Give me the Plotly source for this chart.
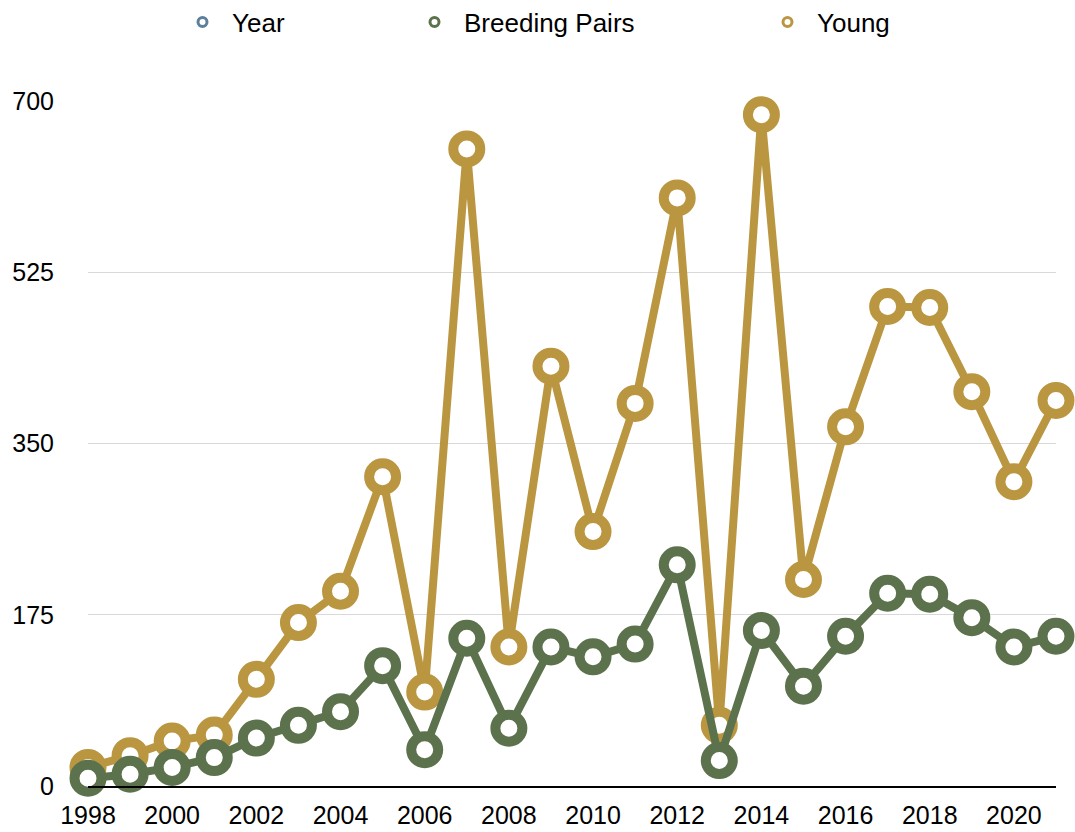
import plotly.graph_objects as go

years = list(range(1998, 2022))
breeding_pairs = [8, 12, 19, 29, 49, 62, 76, 123, 37, 151, 59, 142, 132, 145, 226, 26,
                  159, 102, 153, 197, 196, 172, 142, 153]
young = [19, 31, 46, 52, 109, 167, 199, 316, 96, 651, 142, 429, 260, 391, 601, 62,
         686, 211, 367, 490, 489, 403, 311, 394]

series_names = ["Year", "Breeding Pairs", "Young"]
colors = {"Year": "#5E7F9B", "Breeding Pairs": "#5C724C", "Young": "#BA9641"}
legend_x_px = {"Year": 173, "Breeding Pairs": 405, "Young": 758}
y_ticks = [0, 175, 350, 525, 700]
x_ticks = list(range(1998, 2022, 2))

font_family = "Liberation Sans, Arial, Helvetica, sans-serif"
W, H = 1075, 832

fig = go.Figure()

for name, vals in [("Young", young), ("Breeding Pairs", breeding_pairs)]:
    fig.add_trace(go.Scatter(
        x=years, y=vals, mode="lines+markers", name=name, showlegend=False,
        line=dict(color=colors[name], width=8),
        marker=dict(symbol="circle", size=27, color="white",
                    line=dict(color=colors[name], width=10)),
        cliponaxis=False,
    ))

legend_ids = ["legend", "legend2", "legend3"]
legend_layouts = {}
for lid, name in zip(legend_ids, series_names):
    fig.add_trace(go.Scatter(
        x=[None], y=[None], mode="markers", name=name, legend=lid,
        marker=dict(symbol="circle", size=9, color="white",
                    line=dict(color=colors[name], width=3)),
    ))
    legend_layouts[lid] = dict(
        orientation="h", xref="container", yref="container",
        x=legend_x_px[name] / W, xanchor="left",
        y=1 - 22 / H, yanchor="middle",
        font=dict(size=26, color="black", family=font_family),
        itemwidth=49, bgcolor="rgba(0,0,0,0)",
    )

fig.update_layout(
    width=W, height=H,
    margin=dict(l=88, r=19, t=101, b=46, autoexpand=False),
    paper_bgcolor="white", plot_bgcolor="white",
    font=dict(family=font_family, color="black", size=25),
    showlegend=True,
    **legend_layouts,
)

fig.update_xaxes(range=[1998, 2021], tickvals=x_ticks, showgrid=False,
                 showline=True, linecolor="black", linewidth=2, zeroline=False,
                 ticks="", ticklabelstandoff=6, tickfont=dict(size=25),
                 automargin=False)
fig.update_yaxes(range=[0, 700], tickvals=y_ticks, showgrid=True,
                 gridcolor="#D9D9D9", gridwidth=1, zeroline=False, showline=False,
                 ticks="", ticklabelstandoff=33, tickfont=dict(size=25),
                 automargin=False)

fig.write_html(
    "out.html",
    config={"displayModeBar": False},
    post_script="document.body.style.margin='0';document.body.style.overflow='hidden';",
)
